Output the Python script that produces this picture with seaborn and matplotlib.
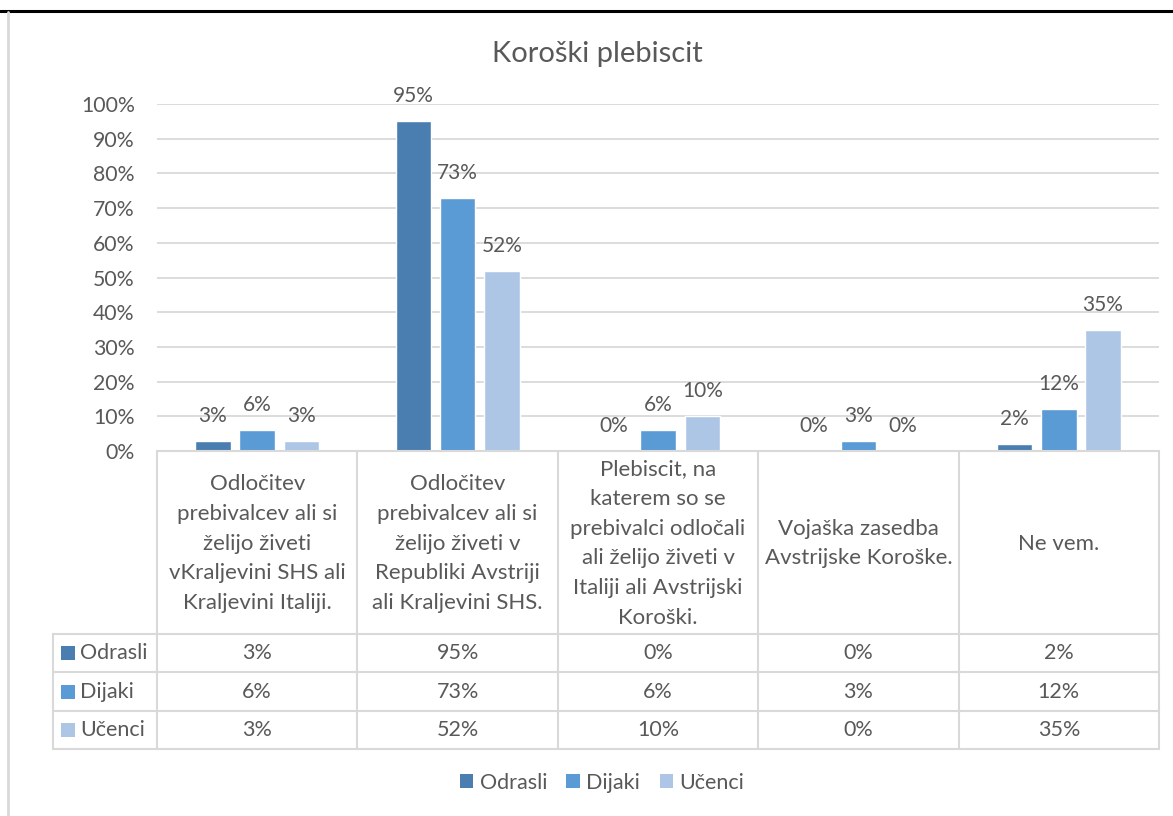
import matplotlib
matplotlib.use("Agg")
import matplotlib.pyplot as plt
import matplotlib.transforms as mtrans
from matplotlib.patches import Rectangle
import seaborn as sns
import pandas as pd

# ---- data ----
categories = [
    "Odločitev\nprebivalcev ali si\nželijo živeti\nvKraljevini SHS ali\nKraljevini Italiji.",
    "Odločitev\nprebivalcev ali si\nželijo živeti v\nRepubliki Avstriji\nali Kraljevini SHS.",
    "Plebiscit, na\nkaterem so se\nprebivalci odločali\nali želijo živeti v\nItaliji ali Avstrijski\nKoroški.",
    "Vojaška zasedba\nAvstrijske Koroške.",
    "Ne vem.",
]
series_names = ["Odrasli", "Dijaki", "Učenci"]
odrasli = [3, 95, 0, 0, 2]
dijaki = [6, 73, 6, 3, 12]
ucenci = [3, 52, 10, 0, 35]
yticks = [0, 10, 20, 30, 40, 50, 60, 70, 80, 90, 100]
title = "Koroški plebiscit"

colors = ["#4a7eb0", "#5b9bd5", "#adc6e6"]
txt = "#595959"
grid_c = "#d9d9d9"

sns.set_theme(style="white")
plt.rcParams["font.family"] = ["Lato", "DejaVu Sans"]

W, H = 1173, 816
fig = plt.figure(figsize=(W / 100, H / 100), dpi=100)
fig.patch.set_facecolor("white")

# axes area in pixel coords
L, R, T, B = 157, 1159, 104, 451
ax = fig.add_axes([L / W, 1 - B / H, (R - L) / W, (B - T) / H])

cat_ids = [f"c{i}" for i in range(len(categories))]
rows = []
for name, vals in zip(series_names, [odrasli, dijaki, ucenci]):
    for c, v in zip(cat_ids, vals):
        rows.append({"cat": c, "series": name, "val": v / 100})
df = pd.DataFrame(rows)

sns.barplot(data=df, x="cat", y="val", hue="series", hue_order=series_names,
            order=cat_ids, palette=colors, width=0.663, gap=0.2,
            saturation=1, ax=ax, legend=False, errorbar=None, zorder=3)

ax.set_xlim(-0.5, len(categories) - 0.5)
ax.set_ylim(0, 1)
ax.set_yticks([t / 100 for t in yticks])
ax.set_yticklabels([f"{t}%" for t in yticks], fontsize=15.3, color=txt)
ax.tick_params(axis="y", length=0, pad=16)
ax.set_xticks([])
ax.set_xlabel("")
ax.set_ylabel("")
ax.grid(axis="y", color=grid_c, lw=1.3, zorder=0)
ax.set_axisbelow(True)
for s in ax.spines.values():
    s.set_visible(False)

# data labels
for cont in ax.containers:
    for p in cont.patches:
        x = p.get_x() + p.get_width() / 2
        h = p.get_height()
        ax.annotate(f"{round(h * 100)}%", (x, h), xytext=(0, 18),
                    textcoords="offset points", ha="center", va="center",
                    fontsize=15, color=txt, annotation_clip=False)

fig.text(597.5 / W, 1 - 54 / H, title, fontsize=21, color=txt, ha="center", va="center")

# ---- data table ----
bt = mtrans.blended_transform_factory(ax.transData, ax.transAxes)
def ya(ypix):
    return (B - ypix) / (B - T)

row_lines = [634, 672, 711, 749]
lw_t = 1.5
for i in range(len(categories) + 1):
    ax.plot([i - 0.5, i - 0.5], [ya(B), ya(row_lines[-1])], transform=bt,
            color=grid_c, lw=lw_t, clip_on=False, zorder=1)
ov = fig.add_axes([0, 0, 1, 1])
ov.set_xlim(0, W)
ov.set_ylim(H, 0)
ov.axis("off")
for y in row_lines:
    ov.plot([53, R], [y, y], color=grid_c, lw=lw_t)
ov.plot([53, 53], [row_lines[0], row_lines[-1]], color=grid_c, lw=lw_t)
ov.plot([L, R], [B, B], color=grid_c, lw=lw_t)

# header labels
for i, lab in enumerate(categories):
    ax.text(i, ya((B + row_lines[0]) / 2 + 1), lab, transform=bt, ha="center",
            va="center", fontsize=16, color=txt, linespacing=1.6, clip_on=False)

# values and row names
for r, (name, vals) in enumerate(zip(series_names, [odrasli, dijaki, ucenci])):
    yc = (row_lines[r] + row_lines[r + 1]) / 2
    ov.add_patch(Rectangle((61, yc - 7), 14, 14, color=colors[r], lw=0))
    ov.text(80, yc, name, ha="left", va="center", fontsize=15.5, color=txt)
    for i, v in enumerate(vals):
        ax.text(i, ya(yc), f"{v}%", transform=bt, ha="center", va="center",
                fontsize=15.5, color=txt, clip_on=False)

# legend
handles = [Rectangle((0, 0), 1, 1, color=c, lw=0) for c in colors]
leg = fig.legend(handles, series_names, loc="center", bbox_to_anchor=(602 / W, 1 - 783 / H),
                 ncol=3, frameon=False, fontsize=15.5, handlelength=0.62, handleheight=0.62,
                 handletextpad=0.3, columnspacing=0.9, labelcolor=txt)

# frame lines
ov.plot([0, W], [11, 11], color="black", lw=2.2)
ov.plot([7.5, 7.5], [12, H], color=grid_c, lw=2)

fig.savefig("out.png", dpi=100)
